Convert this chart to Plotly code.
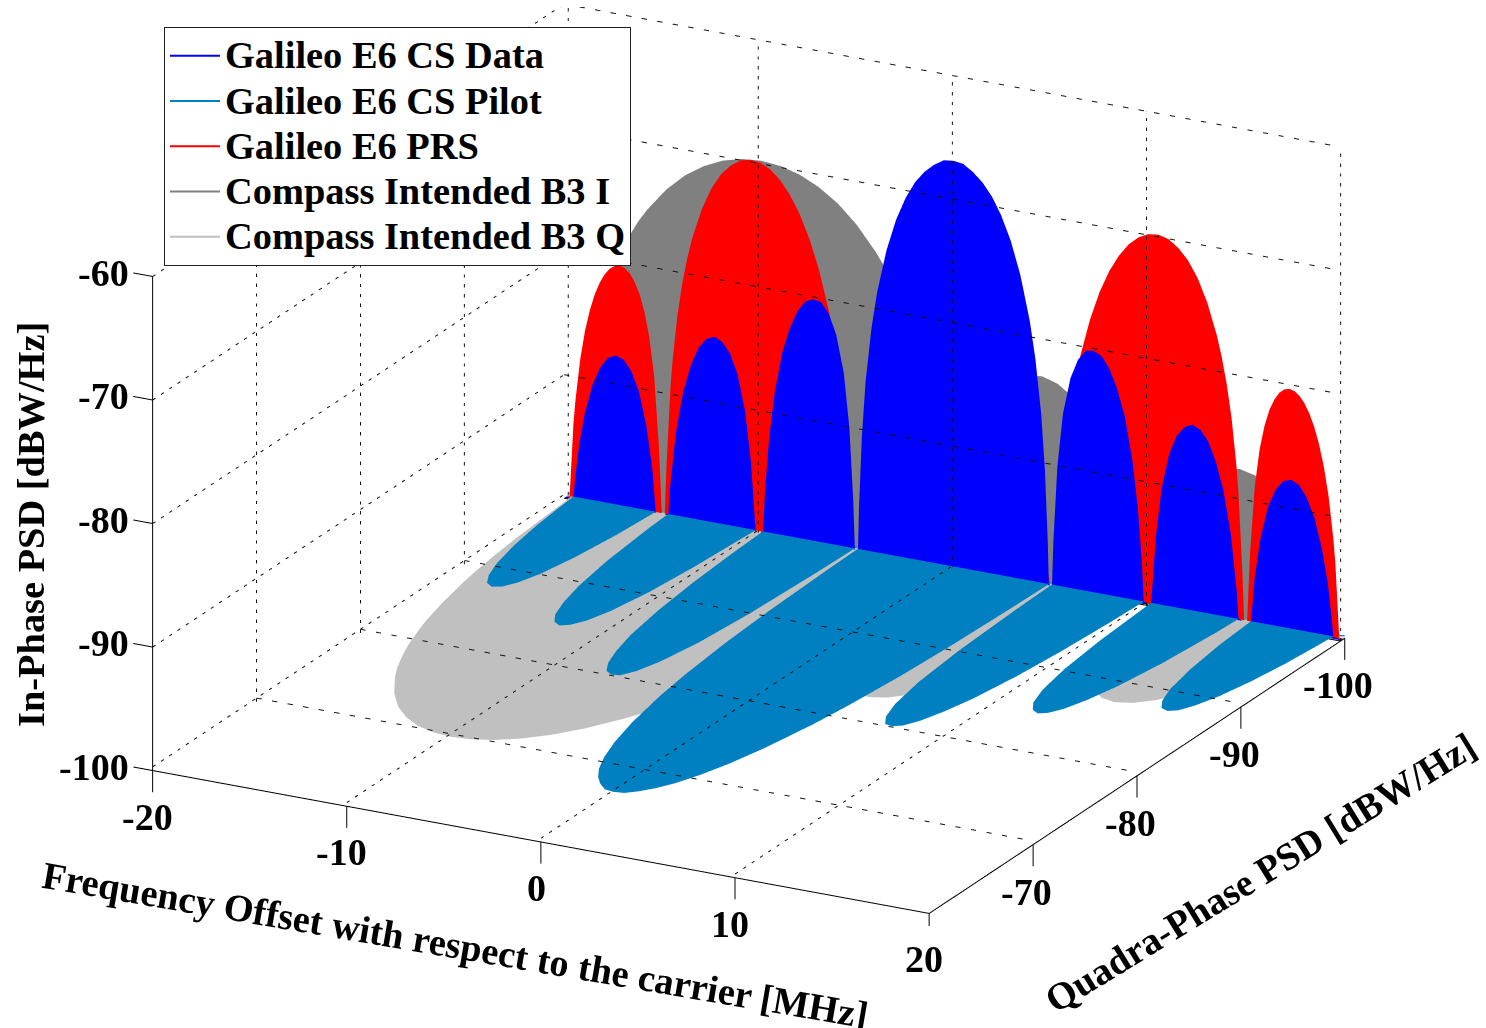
import plotly.graph_objects as go

FONT = "Liberation Serif"

# Frequency offset grid and PSD values (MHz, dBW/Hz)
CS_FREQ = [-20,-19.55,-19.45,-19.26,-18.96,-18.57,-18.18,-17.79,-17.4,-17.01,-16.62,-16.23,-15.84,-15.54,-15.35,-15,
 -14.66,-14.57,-14.27,-13.88,-13.49,-13.1,-12.71,-12.32,-11.93,-11.53,-11.14,-10.75,-10.46,-10.26,-10.2,-10,
 -9.78,-9.68,-9.48,-9.19,-8.8,-8.41,-8.02,-7.62,-7.23,-6.84,-6.45,-6.06,-5.67,-5.38,-5.18,-5.1,-5,
 -4.89,-4.84,-4.69,-4.5,-4.2,-3.91,-3.42,-2.93,-2.44,-1.96,-1.47,-0.98,-0.49,0,
 0.49,0.98,1.47,1.96,2.44,2.93,3.42,3.91,4.2,4.5,4.69,4.84,4.89,5,
 5.1,5.18,5.38,5.67,6.06,6.45,6.84,7.23,7.62,8.02,8.41,8.8,9.19,9.48,9.68,9.78,10,
 10.2,10.26,10.46,10.75,11.14,11.53,11.93,12.32,12.71,13.1,13.49,13.88,14.27,14.57,14.66,15,
 15.35,15.54,15.84,16.23,16.62,17.01,17.4,17.79,18.18,18.57,18.96,19.26,19.45,19.55,20]
CS_DATA_PSD = [-100,-99.9,-98.2,-95.6,-92.9,-90.5,-89,-88.1,-87.8,-88,-88.8,-90.3,-93,-96.3,-100,-100,
 -99.8,-97.6,-93.1,-89.6,-87.4,-85.9,-85.1,-84.8,-85.1,-85.9,-87.5,-90.4,-94.3,-98.8,-100,-100,
 -99.8,-96.6,-92.4,-88.5,-85.1,-83,-81.5,-80.6,-80.3,-80.4,-81.2,-82.8,-85.8,-90.2,-96.2,-100,-100,
 -99.8,-96.6,-90.7,-86.2,-81.8,-78.8,-75.2,-72.6,-70.7,-69.3,-68.3,-67.6,-67.1,-67,
 -67.1,-67.6,-68.3,-69.3,-70.7,-72.6,-75.2,-78.8,-81.8,-86.2,-90.7,-96.6,-99.8,-100,
 -100,-96.2,-90.2,-85.8,-82.8,-81.2,-80.4,-80.3,-80.6,-81.5,-83,-85.1,-88.5,-92.4,-96.6,-99.8,-100,
 -100,-98.8,-94.3,-90.4,-87.5,-85.9,-85.1,-84.8,-85.1,-85.9,-87.4,-89.6,-93.1,-97.6,-99.8,-100,
 -100,-96.3,-93,-90.3,-88.8,-88,-87.8,-88.1,-89,-90.5,-92.9,-95.6,-98.2,-99.9,-100]
CS_PILOT_PSD = list(CS_DATA_PSD)

PRS_FREQ = [-20,-19.8,-19.6,-19.5,-19.25,-19,-18.75,-18.5,-18.25,-18,-17.75,-17.5,-17.25,-17,-16.75,-16.5,-16.25,-16,-15.75,-15.5,-15.25,-15.2,-15.1,-15,
 -14.9,-14.8,-14.6,-14.5,-14.25,-14,-13.75,-13.5,-13,-12.5,-12,-11.5,-11,-10.5,-10,-9.5,-9,-8.5,-8,-7.5,-7,-6.5,-6.25,-6,-5.75,-5.5,-5.25,-5,
 -4.9,-4.5,-4,-3.5,-3,-2.5,-2,-1.5,-1.3,0,1.3,1.5,2,2.5,3,3.5,4,4.5,4.9,
 5,5.25,5.5,5.75,6,6.25,6.5,7,7.5,8,8.5,9,9.5,10,10.5,11,11.5,12,12.5,13,13.5,13.75,14,14.25,14.5,14.6,14.8,14.9,15,
 15.1,15.2,15.25,15.5,15.75,16,16.25,16.5,16.75,17,17.25,17.5,17.75,18,18.25,18.5,18.75,19,19.25,19.5,19.6,19.8,20]
PRS_PSD = [-100,-100,-94,-92.1,-88.64,-86.25,-84.51,-83.18,-82.18,-81.44,-80.93,-80.63,-80.53,-80.65,-80.99,-81.6,-82.5,-83.85,-85.8,-88.85,-94.5,-96.3,-100,-100,
 -100,-95.8,-89.5,-87.5,-83.73,-81.05,-78.98,-77.3,-74.75,-72.9,-71.6,-70.75,-70.2,-70,-70.1,-70.5,-71.2,-72.25,-73.65,-75.5,-77.9,-81,-83,-85.4,-88.4,-92.5,-100,-100,
 -100,-95,-91.3,-90.9,-91,-91.8,-93.8,-98,-100,-100,-100,-98,-93.8,-91.8,-91,-90.9,-91.3,-95,-100,
 -100,-100,-92.5,-88.4,-85.4,-83,-81,-77.9,-75.5,-73.65,-72.25,-71.2,-70.5,-70.1,-70,-70.2,-70.75,-71.6,-72.9,-74.75,-77.3,-78.98,-81.05,-83.73,-87.5,-89.5,-95.8,-100,-100,
 -100,-96.3,-94.5,-88.85,-85.8,-83.85,-82.5,-81.6,-80.99,-80.65,-80.53,-80.63,-80.93,-81.44,-82.18,-83.18,-84.51,-86.25,-88.64,-92.1,-94,-100,-100]

B3_FREQ = [-20,-19.78,-19.68,-19.38,-19.2,-19,-18.8,-18.4,-18,-17.82,-17.3,-16.84,-16.3,-15.86,-14.88,-13.92,-12.94,-11.96,-10.98,-10,
 -9.02,-8.04,-7.06,-6.08,-5.12,-4.14,-3.7,-3.16,-2.7,-2.18,-2,-1.6,-1.2,-1,-0.62,-0.32,0,
 0.2,0.36,0.76,1.34,2.12,2.9,3.68,4.46,5.24,6.04,6.82,7.6,8.38,8.96,9.36,9.56,10,
 10.5,10.92,11.5,12.28,13.06,13.86,14.64,15.42,16.2,16.98,17.76,18.54,19,19.14,20]
B3_I_PSD = [-100,-100,-99.56,-93.69,-91.3,-89.17,-87.5,-84.81,-82.62,-81.79,-79.7,-78.19,-76.67,-75.64,-73.73,-72.31,-71.27,-70.55,-70.14,-70,
 -70.14,-70.55,-71.27,-72.31,-73.73,-75.64,-76.67,-78.19,-79.7,-81.79,-82.62,-84.81,-87.5,-89.17,-93.69,-99.56,-100,
 -100,-99.17,-93.18,-88.8,-85.79,-84.2,-83.43,-83.27,-83.63,-84.5,-85.95,-88.13,-91.46,-95.4,-99.6,-100,-100,
 -100,-97.26,-93.43,-90.53,-88.91,-88.07,-87.83,-88.12,-88.94,-90.36,-92.6,-96.14,-99.5,-100,-100]
B3_Q_PSD = list(B3_I_PSD)

SERIES_NAMES = ["Galileo E6 CS Data", "Galileo E6 CS Pilot", "Galileo E6 PRS",
                "Compass Intended B3 I", "Compass Intended B3 Q"]
COLORS = ["#0000ff", "#0080c0", "#ff0000", "#808080", "#c0c0c0"]

FREQ_TICKS = [-20, -10, 0, 10, 20]
Q_TICKS = [-100, -90, -80, -70]
I_TICKS = [-100, -90, -80, -70, -60]
FREQ_LIM = [-20, 20]
Q_LIM = [-60, -100]
I_LIM = [-100, -60]
FLOOR = -100
PAD = 0.15     # keeps the box lines away from the scene clipping planes
TICK_X = 1.0   # length of the In-Phase ticks, MHz
TICK_Z = 1.75  # length of the floor-axis ticks, dB

fig = go.Figure()


def strip(n):
    i, j, k = [], [], []
    for a in range(n - 1):
        p, q, r, s = 2 * a, 2 * a + 1, 2 * a + 2, 2 * a + 3
        i += [p, q]
        j += [q, s]
        k += [r, r]
    return i, j, k


def label(name):
    return f'<span style="font-size:38.4px">{name}</span>'


def wall_patch(freq, psd, name, color, plane, show):
    xs, ys, zs = [], [], []
    for f, v in zip(freq, psd):
        xs += [f, f]; ys += [plane, plane]; zs += [v, FLOOR]
    i, j, k = strip(len(freq))
    fig.add_trace(go.Mesh3d(x=xs, y=ys, z=zs, i=i, j=j, k=k, color=color, flatshading=True,
                            lighting=dict(ambient=1, diffuse=0, specular=0, fresnel=0),
                            hoverinfo="skip", showlegend=False, legendgroup=name))
    fig.add_trace(go.Scatter3d(x=freq, y=[plane] * len(freq), z=psd, mode="lines", name=label(name),
                               line=dict(color=color, width=2), hoverinfo="skip",
                               legendgroup=name, showlegend=show))


def floor_patch(freq, psd, name, color, plane, show):
    xs, ys, zs = [], [], []
    for f, v in zip(freq, psd):
        xs += [f, f]; ys += [v, FLOOR]; zs += [plane, plane]
    i, j, k = strip(len(freq))
    fig.add_trace(go.Mesh3d(x=xs, y=ys, z=zs, i=i, j=j, k=k, color=color, flatshading=True,
                            lighting=dict(ambient=1, diffuse=0, specular=0, fresnel=0),
                            hoverinfo="skip", showlegend=False, legendgroup=name))
    fig.add_trace(go.Scatter3d(x=freq, y=psd, z=[plane] * len(freq), mode="lines", name=label(name),
                               line=dict(color=color, width=2), hoverinfo="skip",
                               legendgroup=name, showlegend=show))


wall_patch(CS_FREQ, CS_DATA_PSD, SERIES_NAMES[0], COLORS[0], -99.7, True)
floor_patch(CS_FREQ, CS_PILOT_PSD, SERIES_NAMES[1], COLORS[1], -99.8, True)
wall_patch(PRS_FREQ, PRS_PSD, SERIES_NAMES[2], COLORS[2], -99.8, True)
wall_patch(B3_FREQ, B3_I_PSD, SERIES_NAMES[3], COLORS[3], -99.9, True)
floor_patch(B3_FREQ, B3_Q_PSD, SERIES_NAMES[4], COLORS[4], -99.9, True)


def seg(p0, p1, dash="dash", color="#111111", width=2):
    fig.add_trace(go.Scatter3d(x=[p0[0], p1[0]], y=[p0[1], p1[1]], z=[p0[2], p1[2]], mode="lines",
                               line=dict(color=color, width=width, dash=dash),
                               hoverinfo="skip", showlegend=False))


GF, GW = -99.7, -99.6
xa, xb = FREQ_LIM
qa, qb = Q_LIM
za, zb = I_LIM
for f in FREQ_TICKS:
    if f != xb:
        seg((f, qa, GF), (f, qb, GF))  # floor (the last one is the solid axis)
    if f != xa:
        seg((f, GW, za), (f, GW, zb))  # back wall (the first one is drawn with the left wall)
    seg((f, qa, za - TICK_Z), (f, qa, za), "solid", "#000000", 2)
for q in Q_TICKS:
    if q != qb:
        seg((xa, q, GF), (xb, q, GF))  # floor (the last one is the solid base line)
    seg((xa, q, za), (xa, q, zb))      # left wall
    seg((xb, q, za - TICK_Z), (xb, q, za), "solid", "#000000", 2)
for v in I_TICKS:
    if v != za:                        # the bottom lines are already on the floor
        seg((xa, GW, v), (xb, GW, v))  # back wall
        seg((xa, qa, v), (xa, qb, v))  # left wall
    seg((xa - TICK_X, qa, v), (xa, qa, v), "solid", "#000000", 2)

# solid axes
seg((xa, qa, za), (xb, qa, za), "solid", "#000000", 2)
seg((xb, qa, za), (xb, qb, za), "solid", "#000000", 2)
seg((xa, qa, za), (xa, qa, zb), "solid", "#000000", 2)
seg((xa, GW, za), (xb, GW, za), "solid", "#000000", 2)

tick_font = dict(family=FONT, size=38, color="black", weight=700)
notes = []
for f in FREQ_TICKS:
    notes.append(dict(x=f, y=qa, z=za, text=str(f), showarrow=False, font=tick_font, xshift=-5, yshift=-46))
for q in Q_TICKS:
    notes.append(dict(x=xb, y=q, z=za, text=str(q), showarrow=False, font=tick_font, xshift=-7, yshift=-47))
for v in I_TICKS:
    notes.append(dict(x=xa, y=qa, z=v, text=str(v), showarrow=False, font=tick_font, xanchor="right", xshift=-22, yshift=4))

axis_common = dict(showbackground=False, showgrid=False, zeroline=False, showspikes=False,
                   showline=False, title=dict(text=""), showticklabels=False, ticks="")

title_font = dict(family=FONT, size=38.4, color="black", weight=700)
fig.update_layout(
    width=1486, height=1028, margin=dict(l=0, r=0, t=0, b=0), paper_bgcolor="white",
    scene=dict(
        domain=dict(x=[0.0007, 0.9948], y=[0.09915, 0.99315]),
        xaxis=dict(range=[xa - TICK_X - 0.1, xb + PAD], tickvals=FREQ_TICKS, **axis_common),
        yaxis=dict(range=[qa + PAD, qb - PAD], tickvals=Q_TICKS, **axis_common),
        zaxis=dict(range=[za - TICK_Z - 0.15, zb + PAD], tickvals=I_TICKS, **axis_common),
        aspectmode="manual", aspectratio=dict(x=1.97, y=1.954, z=1.2062),
        camera=dict(projection=dict(type="orthographic"), up=dict(x=0, y=0, z=1),
                    center=dict(x=0, y=0, z=0), eye=dict(x=0.874, y=-1.658, z=0.698)),
        annotations=notes,
    ),
    legend=dict(x=164 / 1486, y=1 - 27 / 1028, xanchor="left", yanchor="top", bordercolor="#222222",
                borderwidth=1, bgcolor="white", itemwidth=50, tracegroupgap=0,
                entrywidth=433, entrywidthmode="pixels",
                font=dict(family=FONT, size=32.5, color="black", weight=700)),
    annotations=[
        dict(text="Frequency Offset with respect to the carrier [MHz]", x=455 / 1486, y=1 - 945 / 1028,
             xref="paper", yref="paper", showarrow=False, textangle=9.7, xanchor="center", yanchor="middle",
             font=title_font),
        dict(text="Quadra-Phase PSD [dBW/Hz]", x=1260 / 1486, y=1 - 873 / 1028,
             xref="paper", yref="paper", showarrow=False, textangle=-31.6, xanchor="center", yanchor="middle",
             font=title_font),
        dict(text="In-Phase PSD [dBW/Hz]", x=31 / 1486, y=1 - 525 / 1028,
             xref="paper", yref="paper", showarrow=False, textangle=-90, xanchor="center", yanchor="middle",
             font=title_font),
    ],
)

fig.write_html("out.html", config={"displayModeBar": False},
               post_script="document.body.style.margin='0';")
